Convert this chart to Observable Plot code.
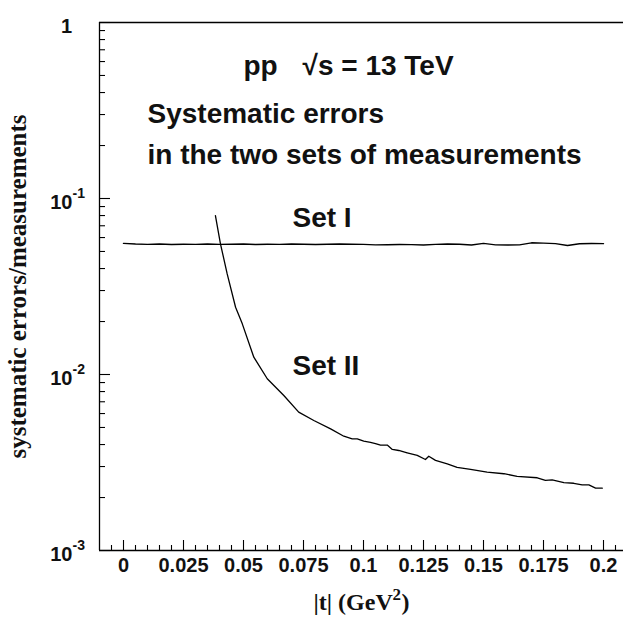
<!DOCTYPE html>
<html><head><meta charset="utf-8">
<script src="https://cdn.jsdelivr.net/npm/d3@7"></script>
<script src="https://cdn.jsdelivr.net/npm/@observablehq/plot@0.6"></script>
<style>
body{margin:0;background:#fff;}
</style>
</head><body><div id="chart"></div>
<script>
// ---- data ----
const setI_t = [0,0.005,0.01,0.015,0.02,0.025,0.03,0.035,0.04,0.045,0.05,0.055,0.06,0.065,0.07,0.075,0.08,0.085,0.09,0.095,0.1,0.105,0.11,0.115,0.12,0.125,0.13,0.135,0.14,0.145,0.15,0.155,0.16,0.165,0.17,0.175,0.18,0.185,0.19,0.195,0.2];
const setI_v = [0.0556,0.0551,0.0549,0.0551,0.0548,0.0550,0.0549,0.0551,0.0549,0.0550,0.0551,0.0548,0.0550,0.0549,0.0551,0.0550,0.0548,0.0550,0.0551,0.0550,0.0549,0.0545,0.0546,0.0548,0.0547,0.0544,0.0549,0.0551,0.0550,0.0544,0.0556,0.0545,0.0544,0.0545,0.0560,0.0558,0.0554,0.0541,0.0553,0.0555,0.0554];
const setII_t = [0.0383,0.0404,0.0432,0.0467,0.0495,0.0543,0.0599,0.0668,0.0730,0.0793,0.0863,0.0918,0.0953,0.0974,0.1001,0.1029,0.1050,0.1071,0.1099,0.1120,0.1147,0.1182,0.1224,0.1258,0.1272,0.1300,0.1349,0.1390,0.1446,0.1515,0.1585,0.1640,0.1724,0.1758,0.1786,0.1835,0.1876,0.1911,0.1939,0.1967,0.1995];
const setII_v = [0.080,0.0553,0.0373,0.0241,0.0194,0.01254,0.00946,0.0076,0.00611,0.00548,0.00491,0.00446,0.00431,0.00431,0.00418,0.00412,0.00405,0.00397,0.00397,0.00375,0.0037,0.00359,0.00347,0.00329,0.00343,0.00325,0.00311,0.00297,0.00289,0.00279,0.00273,0.00264,0.00259,0.0025,0.00252,0.00243,0.00241,0.00236,0.00236,0.00226,0.00226];

const xTickValues = [0,0.025,0.05,0.075,0.1,0.125,0.15,0.175,0.2];
const xTickLabels = ["0","0.025","0.05","0.075","0.1","0.125","0.15","0.175","0.2"];
const yDecades = [0.001,0.01,0.1];
const yDecadeExps = ["-3","-2","-1"];
const yTop = [1];
const yTopLabel = ["1"];

const setI = setI_t.map((t,i)=>({t, v:setI_v[i]}));
const setII = setII_t.map((t,i)=>({t, v:setII_v[i]}));

// tick helpers
const xMinor = d3.range(-1, 42).map(k=>k*0.005).filter(v=>Math.abs(Math.round(v/0.025)*0.025 - v) > 1e-9);
const yMinor = yDecades.flatMap(d => [2,3,4,5,6,7,8,9].map(k=>k*d));

const W = 623, H = 624, ML = 99, MR = 0, MT = 22, MB = 74;
const PW = W - ML - MR, PH = H - MT - MB;

const sans = "'Liberation Sans', Arial, Helvetica, sans-serif";
const serif = "'Liberation Serif', 'Times New Roman', serif";

const plot = Plot.plot({
  width: W, height: H,
  marginLeft: ML, marginRight: MR, marginTop: MT, marginBottom: MB,
  x: {domain: [-0.01, 0.208333], axis: null},
  y: {type: "log", domain: [1e-3, 1], axis: null},
  style: {fontFamily: sans, background: "white", color: "black", overflow: "visible"},
  marks: [
    // frame (top, bottom, left)
    Plot.ruleY([1e-3, 1], {stroke: "black", strokeWidth: 1.3}),
    Plot.ruleX([-0.01], {stroke: "black", strokeWidth: 1.3}),
    // x ticks (inward)
    Plot.tickX(xMinor, {x: d=>d, insetTop: PH - 5, stroke: "black", strokeWidth: 1.1}),
    Plot.tickX(xTickValues, {x: d=>d, insetTop: PH - 10, stroke: "black", strokeWidth: 1.1}),
    // y ticks (inward)
    Plot.tickY(yMinor, {y: d=>d, insetRight: PW - 6, stroke: "black", strokeWidth: 1.1}),
    Plot.tickY([...yDecades, ...yTop], {y: d=>d, insetRight: PW - 11, stroke: "black", strokeWidth: 1.1}),
    // x tick labels
    Plot.text(xTickValues, {x: d=>d, text: (d,i)=>xTickLabels[i], frameAnchor: "bottom", dy: 21, fontSize: 20, fontWeight: "bold", fill: "#111"}),
    // y tick labels
    Plot.text(yDecades, {y: d=>d, text: ()=>"10", frameAnchor: "left", textAnchor: "end", dx: -27, dy: 4, fontSize: 20, fontWeight: "bold", fill: "#111"}),
    Plot.text(yDecades, {y: d=>d, text: (d,i)=>yDecadeExps[i], frameAnchor: "left", textAnchor: "start", dx: -27, dy: -5, fontSize: 14, fontWeight: "bold", fill: "#111"}),
    Plot.text(yTop, {y: d=>d, text: (d,i)=>yTopLabel[i], frameAnchor: "left", textAnchor: "middle", dx: -33, dy: 4, fontSize: 20, fontWeight: "bold", fill: "#111"}),
    // curves
    Plot.line(setI, {x: "t", y: "v", stroke: "black", strokeWidth: 1.4}),
    Plot.line(setII, {x: "t", y: "v", stroke: "black", strokeWidth: 1.3}),
    // annotations
    Plot.text(["pp"], {x: 0.05, y: 0.565, text: d=>d, textAnchor: "start", fontSize: 28, fontWeight: "bold", fill: "#111"}),
    Plot.text(["\u221As = 13 TeV"], {x: 0.0746, y: 0.565, text: d=>d, textAnchor: "start", fontSize: 28, fontWeight: "bold", fill: "#111"}),
    Plot.text(["Systematic errors"], {x: 0.01, y: 0.301, text: d=>d, textAnchor: "start", fontSize: 28, fontWeight: "bold", fill: "#111"}),
    Plot.text(["in the two sets of measurements"], {x: 0.01, y: 0.176, text: d=>d, textAnchor: "start", fontSize: 28, fontWeight: "bold", fill: "#111"}),
    Plot.text(["Set I"], {x: 0.0704, y: 0.0773, text: d=>d, textAnchor: "start", fontSize: 28, fontWeight: "bold", fill: "#111"}),
    Plot.text(["Set II"], {x: 0.0704, y: 0.01113, text: d=>d, textAnchor: "start", fontSize: 28, fontWeight: "bold", fill: "#111"}),
    // x axis title: |t| (GeV^2)
    Plot.text(["|t| (GeV"], {text: d=>d, frameAnchor: "bottom", textAnchor: "start", dx: -48, dy: 59, fontSize: 24, fontWeight: "bold", fontFamily: serif, fill: "#111"}),
    Plot.text(["2"], {text: d=>d, frameAnchor: "bottom", textAnchor: "start", dx: 31, dy: 49, fontSize: 17, fontWeight: "bold", fontFamily: serif, fill: "#111"}),
    Plot.text([")"], {text: d=>d, frameAnchor: "bottom", textAnchor: "start", dx: 40, dy: 59, fontSize: 24, fontWeight: "bold", fontFamily: serif, fill: "#111"}),
    // y axis title
    Plot.text(["systematic errors/measurements"], {text: d=>d, frameAnchor: "left", textAnchor: "middle", rotate: -90, dx: -82, fontSize: 25, fontWeight: "bold", fontFamily: serif, fill: "#111"})
  ]
});
document.getElementById("chart").appendChild(plot);
</script>
</body></html>
